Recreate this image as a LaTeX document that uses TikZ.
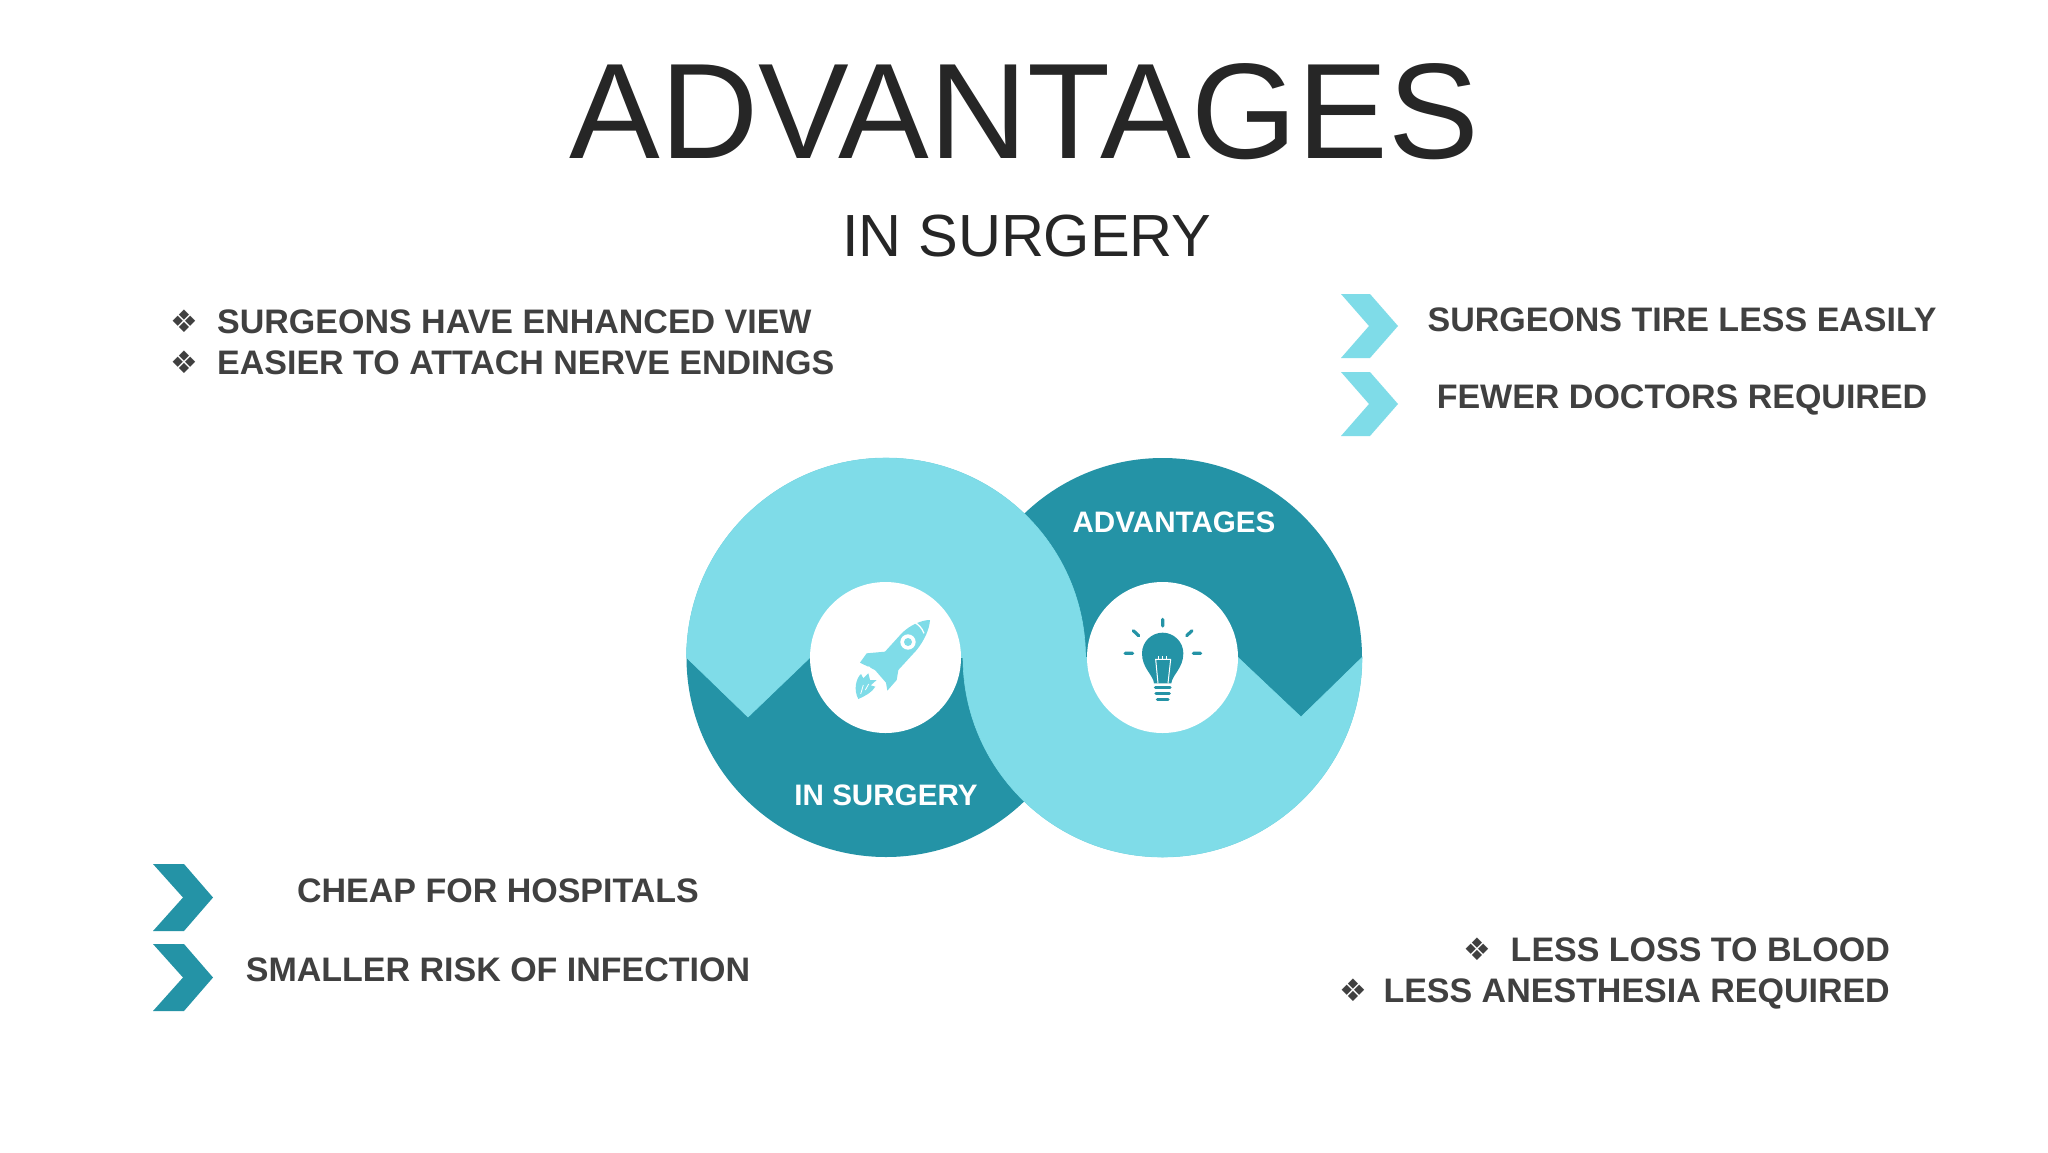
\documentclass[tikz,border=0pt]{standalone}
\usepackage{fontspec}
\setmainfont{Liberation Sans}
\newfontfamily\symfont{DejaVu Sans}
\usepackage{xcolor}
\definecolor{tealdark}{HTML}{2493A6}
\definecolor{teallight}{HTML}{7FDCE8}
\definecolor{inkdark}{HTML}{404040}
\definecolor{inktitle}{HTML}{262626}
\begin{document}
\begin{tikzpicture}[x=1pt,y=-1pt]
      \tikzstyle{every node}=[inner sep=0pt]
      \tikzstyle{item}=[anchor=base,text=inkdark,font=\fontsize{34}{34}\selectfont\bfseries]
      \tikzstyle{leftitem}=[item,anchor=base west]
      \tikzstyle{rightitem}=[item,anchor=base east]
      \tikzstyle{bullet}=[text=inkdark,font=\fontsize{31}{31}\symfont]
      \tikzstyle{inner}=[anchor=base,text=white,font=\fontsize{29.6}{30}\selectfont\bfseries]
      \tikzstyle{hole}=[circle,fill=white,minimum size=151pt]
      \useasboundingbox (0,0) rectangle (2048,1152);
      \fill[white] (0,0) rectangle (2048,1152);

      \node[anchor=base,text=inktitle,font=\fontsize{136}{136}\selectfont] (title) at (1024,158) {ADVANTAGES};
      \node[anchor=base,text=inktitle,font=\fontsize{59.5}{60}\selectfont] (subtitle) at (1027,256) {IN SURGERY};

      % the two discs
      \fill[tealdark] (886,657.5) circle (199.5);
      \fill[tealdark] (1162.5,657.5) circle (199.5);
      \filldraw[teallight,line width=.6pt] (686.5,657.5) arc[start angle=180,end angle=360,radius=199.5] -- (810,657.5) -- (748,717) -- cycle;
      \filldraw[teallight,line width=.6pt] (1362,657.5) arc[start angle=0,end angle=180,radius=199.5] -- (1238,657.5) -- (1301,717) -- cycle;
      \node[hole] (holeleft) at (885.5,657.5) {};
      \node[hole] (holeright) at (1162.5,657.5) {};
      \node[inner] (labeladv) at (1174,532) {ADVANTAGES};
      \node[inner] (labelsurg) at (886,805) {IN SURGERY};

      % rocket
      \begin{scope}[shift={(800,570)},scale=1/3]
        \fill[teallight] (390,150) .. controls (365,150) and (330,165) .. (305,190) -- (255,245) -- (200,250) -- (180,278) -- (225,300) -- (258,338) -- (262,362) -- (290,330) -- (295,300) -- (350,240) .. controls (372,212) and (388,180) .. (390,150) -- cycle;
        \draw[white,line width=1.3pt] (342,157) .. controls (355,162) and (366,174) .. (372,190);
        \draw[white,line width=1.3pt] (205,290) -- (240,325);
        \fill[white] (324,216) circle (23);
        \fill[teallight] (324,216) circle (12);
        \fill[teallight] (175,387) .. controls (160,360) and (168,325) .. (183,312) -- (190,325) -- (205,310) -- (210,330) -- (230,330) -- (212,346) -- (226,350) .. controls (215,368) and (195,378) .. (175,387) -- cycle;
        \draw[white,line width=.8pt] (182,372) -- (190,345) (196,360) -- (206,342);
      \end{scope}

      % bulb
      \begin{scope}[shift={(1080,570)},scale=1/3]
        \fill[tealdark] (222,340) .. controls (220,315) and (186,295) .. (186,250) .. controls (186,215) and (215,188) .. (248,188) .. controls (281,188) and (310,215) .. (310,250) .. controls (310,295) and (276,315) .. (274,340) -- cycle;
        \draw[white,line width=1pt] (234,340) -- (227,268) -- (272,268) -- (264,340);
        \draw[white,line width=1pt] (234,258) -- (234,268) (248,258) -- (248,268) (260,258) -- (260,268);
        \draw[tealdark,line width=3.2pt,line cap=round] (248,148) -- (248,168) (160,182) -- (176,197) (336,182) -- (320,197) (135,250) -- (158,250) (340,250) -- (362,250);
        \draw[tealdark,line width=3.2pt,line cap=round] (226,353) -- (270,353) (228,371) -- (268,371) (232,389) -- (264,389);
      \end{scope}

      % top right
      \fill[teallight] (1341,294) -- (1370,294) -- (1398,326) -- (1370,358) -- (1341,358) -- (1369,326) -- cycle;
      \fill[teallight] (1341,372) -- (1370,372) -- (1398,404) -- (1370,436) -- (1341,436) -- (1369,404) -- cycle;
      \node[item] (tire) at (1682,331) {SURGEONS TIRE LESS EASILY};
      \node[item] (fewer) at (1682,408) {FEWER DOCTORS REQUIRED};

      % top left
      \node[bullet] (b1) at (184,321) {❖};
      \node[bullet] (b2) at (184,362) {❖};
      \node[leftitem] (view) at (217,333) {SURGEONS HAVE ENHANCED VIEW};
      \node[leftitem] (nerve) at (217,374) {EASIER TO ATTACH NERVE ENDINGS};

      % bottom left
      \fill[tealdark] (153,864) -- (184,864) -- (213,897.5) -- (184,931) -- (153,931) -- (183,897.5) -- cycle;
      \fill[tealdark] (153,944) -- (184,944) -- (213,977.5) -- (184,1011) -- (153,1011) -- (183,977.5) -- cycle;
      \node[item] (cheap) at (498,902) {CHEAP FOR HOSPITALS};
      \node[item] (risk) at (498,981) {SMALLER RISK OF INFECTION};

      % bottom right
      \node[bullet] (b3) at (1477,949) {❖};
      \node[bullet] (b4) at (1353,990) {❖};
      \node[rightitem] (blood) at (1890,961) {LESS LOSS TO BLOOD};
      \node[rightitem] (anes) at (1890,1002) {LESS ANESTHESIA REQUIRED};
\end{tikzpicture}
\end{document}
